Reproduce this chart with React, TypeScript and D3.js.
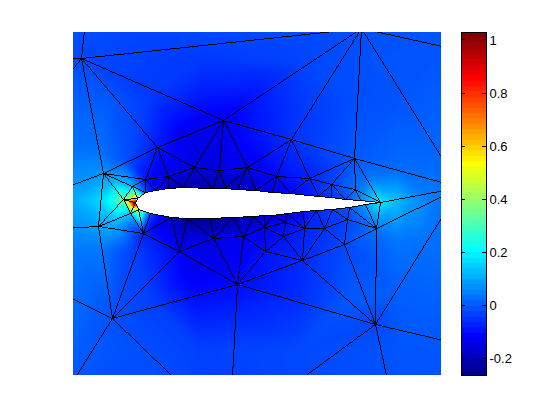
import React, { useMemo } from "react";
import * as d3 from "d3";

// Mesh nodes: chord coordinates (chord = 244 units, leading edge near 0,0) and field value
const nodeIds = ["A","B","C","D","E","F","G","H","I","J","K","L","M","N","O","P","Q","R","S","T","U","V","Vb","W","X","Y","Z","a","b","c","d","e","f","g","h","i","j","w","z",
  "p1","p2","p3","p4","p5","p6","p7","p8","p9","p10","p11","p12","p13","p14","p15",
  "l1","l2","l3","l4","l5","l6","l7","l8","l9","l10","l11","l12","l13","l14","l15",
  "LM","LC","BL","BN","BR","RB","RR","RT","TA","TR"];
const nodeX = [-54,225,87,155,218,244,240,208,166,129,147,128,149,168,188,211,140,173,195,219,21,58,83,111,-33,9,32,-4,-13,-1,-6,-38,7,43,77,107,101,-24,239,
  1,9,19,32,47,76,89,101,119,136,154,182,195,209,224,
  2,14,35,51,74,97,117,128,136,151,167,181,196,213,229,
  -196,-96,-81,93,264,384,324,334,-50,344];
const nodeY = [145,175,83,64,45,1,-25,-41,-57,-48,-33,-24,-19,-25,-25,-16,26,25,18,14,56,35,32.5,35,30,24,26,17,4,0,-10,-23,-30,-48,-36,-33,-81,-115,-121,
  5,10.5,13,14.5,15.5,15,14.5,14,12.5,11,9.5,7,5.5,4,2.5,
  -6,-10.5,-14,-15,-15,-14,-13,-12.5,-12,-10.5,-9,-7,-6,-4,-1.5,
  -31,146,-207,-228,-237,-155,16,150,193,223];
const nodeV = [-0.01,0,-0.115,-0.04,0.01,0.21,0.05,-0.01,-0.05,-0.08,-0.08,-0.11,-0.09,-0.06,-0.04,-0.02,-0.09,-0.06,-0.02,0.04,-0.07,-0.14,-0.14,-0.12,0.085,-0.08,-0.15,0.12,0.35,1.03,0.15,0.1,-0.06,-0.1,-0.14,-0.12,-0.09,0,-0.012,
  0.55,0,-0.1,-0.17,-0.2,-0.21,-0.2,-0.19,-0.17,-0.13,-0.1,-0.05,-0.03,-0.01,0.08,
  0.45,-0.02,-0.17,-0.23,-0.25,-0.22,-0.19,-0.17,-0.15,-0.12,-0.1,-0.05,-0.02,0,0.1,
  0.03,0,0,-0.02,0,0.01,0.03,0.01,0,0.01];

// Extra readings of the field, taken between the mesh nodes
const sampleX = [-36,-51,-63,-26,-36,-63,-36,-63,-11,-6,-21,-21,-63,-26,54,64,14,114,164,164,64,264,294,214,294,274,259,264,264,294,294,234,214,164,104,54,14,64,164,264,264,-6,-56,134,267];
const sampleY = [3,3,3,3,53,53,-47,-47,43,-47,23,-19,103,103,63,111,103,73,103,143,143,103,143,103,3,3,2,33,-37,43,-37,28,-97,-97,-107,-67,-97,-147,-147,-147,-87,-147,-147,128,128];
const sampleV = [0.18,0.14,0.115,0.24,0.04,0.04,0.05,0.05,0,-0.015,0.12,0.13,0.02,0.01,-0.13,-0.065,-0.03,-0.085,-0.03,-0.015,-0.03,0.005,0.005,-0.005,0.06,0.1,0.15,0.035,0.05,0.03,0.04,0.04,0.01,-0.045,-0.06,-0.12,-0.02,-0.02,-0.01,0.005,0.02,0,0.015,-0.05,0.006];

const triangles = [
  "c l1 d","d l1 f","f l1 l2","f l2 l3","f l3 g","g l3 l4","g l4 h","h l4 l5","h l5 l6","h l6 i",
  "i l6 l7","i l7 L","L l7 l8","L l8 l9","L l9 M","M l9 l10","M l10 N","N l10 l11","N l11 l12","N l12 O","O l12 l13","O l13 P","P l13 l14","P l14 G","G l14 l15","G l15 F",
  "i L J","L K J","L M K","M N K","K N I","K I J","N O I","O H I","O P H","P G H",
  "g h j","h i j","i J j","J I j","f g w","e f w","g j w","I j z","I H z","H G z",
  "a b p1","b c p1","a p1 p2","Y a p2","Y p2 p3","Y p3 Z","Z p3 p4","Z p4 p5","Z p5 V","V p5 p6","V p6 Vb","Vb p6 p7","Vb p7 W","W p7 p8","W p8 p9","W p9 Q","Q p9 p10","Q p10 p11","Q p11 R","R p11 p12","R p12 S","S p12 p13","S p13 p14","S p14 T","T p14 p15","T p15 F",
  "U Y Z","U Z V","U V C","C V Vb","C Vb W","C W D","D W Q","D Q R","D R E","E R S","E S T","E T F",
  "b c d","b d e","d f e","X a b","X b e","X Y a","X U Y","A X U","A U C","A C B","C D B","D E B",
  "e X LM","e LM w","w LM BL","w BL BN","w j BN","j z BN","z BN BR","z BR RB","z RB RR","G z RR","F G RR","E F RR","E B RR","B RT RR","B TR RT","B TA TR","A TA B","A LC TA","A LC LM","A X LM",
];

const colorMin = -0.263;
const colorMax = 1.03;
const colorTicks = [1, 0.8, 0.6, 0.4, 0.2, 0, -0.2];
const colorLevels = d3.range(64);

const plot = { left: 73, right: 441, top: 32, bottom: 375 };
const bar = { left: 461, right: 486 };

const xS = d3.scaleLinear().domain([-63, 305]).range([plot.left, plot.right]);
const yS = d3.scaleLinear().domain([-172, 171]).range([plot.bottom, plot.top]);
const cS = d3.scaleLinear().domain([colorMin, colorMax]).range([plot.bottom, plot.top]);

const stops = [0, 0.125, 0.375, 0.625, 0.875, 1];
const jr = d3.scaleLinear().domain(stops).range([0, 0, 0, 1, 1, 0.5]).clamp(true);
const jg = d3.scaleLinear().domain(stops).range([0, 0, 1, 1, 0, 0]).clamp(true);
const jb = d3.scaleLinear().domain(stops).range([0.5, 1, 1, 0, 0, 0]).clamp(true);
const jet = (t: number) => [Math.round(jr(t) * 255), Math.round(jg(t) * 255), Math.round(jb(t) * 255)];
const levelPalette = colorLevels.map((i) => jet((i + 1) / 64));
const toT = d3.scaleLinear().domain([colorMin, colorMax]).range([0, 1]).clamp(true);

const index = new Map(nodeIds.map((id, i) => [id, i]));
const triIdx = triangles.map((t) => t.split(" ").map((id) => index.get(id) as number));

const upperIds = ["c","p1","p2","p3","p4","p5","p6","p7","p8","p9","p10","p11","p12","p13","p14","p15","F"];
const lowerIds = ["l15","l14","l13","l12","l11","l10","l9","l8","l7","l6","l5","l4","l3","l2","l1"];

function rasterize(): string {
  const W = plot.right - plot.left;
  const H = plot.bottom - plot.top;
  const fx = [...nodeX, ...sampleX].map((v) => xS(v));
  const fy = [...nodeY, ...sampleY].map((v) => yS(v));
  const fv = [...nodeV, ...sampleV];
  const hull = [...upperIds, ...lowerIds].map((id) => {
    const i = index.get(id) as number;
    return [xS(nodeX[i]), yS(nodeY[i])] as [number, number];
  });
  const del = d3.Delaunay.from(fx.map((x, i) => [x, fy[i]] as [number, number]));
  const tri = del.triangles;
  const field = new Float32Array(W * H).fill(NaN);
  for (let t = 0; t < tri.length; t += 3) {
    const a = tri[t], b = tri[t + 1], c = tri[t + 2];
    const ax = fx[a], ay = fy[a], bx = fx[b], by = fy[b], cx = fx[c], cy = fy[c];
    const den = (by - cy) * (ax - cx) + (cx - bx) * (ay - cy);
    if (Math.abs(den) < 1e-6) continue;
    const x0 = Math.max(plot.left, Math.floor(Math.min(ax, bx, cx)));
    const x1 = Math.min(plot.right - 1, Math.ceil(Math.max(ax, bx, cx)));
    const y0 = Math.max(plot.top, Math.floor(Math.min(ay, by, cy)));
    const y1 = Math.min(plot.bottom - 1, Math.ceil(Math.max(ay, by, cy)));
    for (let py = y0; py <= y1; py++) {
      for (let px = x0; px <= x1; px++) {
        const qx = px + 0.5, qy = py + 0.5;
        const u = ((by - cy) * (qx - cx) + (cx - bx) * (qy - cy)) / den;
        const v = ((cy - ay) * (qx - cx) + (ax - cx) * (qy - cy)) / den;
        const w = 1 - u - v;
        if (u < -0.001 || v < -0.001 || w < -0.001) continue;
        if (d3.polygonContains(hull, [qx, qy])) continue;
        field[(py - plot.top) * W + (px - plot.left)] = u * fv[a] + v * fv[b] + w * fv[c];
      }
    }
  }
  // Soften the facets of the interpolation, leaving the sharp peak at the nose alone
  const blur = (src: Float32Array, r: number) => {
    const out = new Float32Array(W * H).fill(NaN);
    for (let y = 0; y < H; y++) {
      for (let x = 0; x < W; x++) {
        if (Number.isNaN(src[y * W + x])) continue;
        let s = 0, n = 0;
        for (let dy = -r; dy <= r; dy++) {
          const yy = y + dy;
          if (yy < 0 || yy >= H) continue;
          for (let dx = -r; dx <= r; dx++) {
            const xx = x + dx;
            if (xx < 0 || xx >= W) continue;
            const val = src[yy * W + xx];
            if (!Number.isNaN(val)) {
              s += val;
              n++;
            }
          }
        }
        out[y * W + x] = s / n;
      }
    }
    return out;
  };
  const soft = blur(blur(field, 3), 3);
  const cIdx = index.get("c") as number;
  const nx = xS(nodeX[cIdx]) - plot.left;
  const ny = yS(nodeY[cIdx]) - plot.top;
  const mix = d3.scaleLinear().domain([10, 30]).range([0, 1]).clamp(true);

  const canvas = document.createElement("canvas");
  canvas.width = W;
  canvas.height = H;
  const ctx = canvas.getContext("2d")!;
  const img = ctx.createImageData(W, H);
  for (let y = 0; y < H; y++) {
    for (let x = 0; x < W; x++) {
      const f = field[y * W + x];
      if (Number.isNaN(f)) continue;
      const m = mix(Math.hypot(x - nx, y - ny));
      const rgb = jet(toT(f * (1 - m) + soft[y * W + x] * m));
      const k = (y * W + x) * 4;
      img.data[k] = rgb[0];
      img.data[k + 1] = rgb[1];
      img.data[k + 2] = rgb[2];
      img.data[k + 3] = 255;
    }
  }
  ctx.putImageData(img, 0, 0);
  return canvas.toDataURL("image/png");
}

// One-pixel staircase between two mesh nodes, so the wires stay hard-edged and unbroken
function wirePath(p: number, q: number): string {
  const path = d3.path();
  const x0 = Math.floor(xS(nodeX[p])), y0 = Math.floor(yS(nodeY[p]));
  const x1 = Math.floor(xS(nodeX[q])), y1 = Math.floor(yS(nodeY[q]));
  const steps = Math.max(Math.abs(x1 - x0), Math.abs(y1 - y0), 1);
  const px = d3.scaleLinear().domain([0, steps]).range([x0, x1]);
  const py = d3.scaleLinear().domain([0, steps]).range([y0, y1]);
  for (let s = 0; s <= steps; s++) {
    const x = Math.round(px(s)), y = Math.round(py(s));
    if (x < plot.left - 1 || x > plot.right || y < plot.top - 1 || y > plot.bottom) continue;
    path.rect(x, y, 1, 1);
  }
  return path.toString();
}

export default function App() {
  const href = useMemo(rasterize, []);
  const edges = useMemo(() => {
    const seen = new Set<string>();
    const out: [number, number][] = [];
    for (const [a, b, c] of triIdx) {
      for (const [p, q] of [[a, b], [b, c], [c, a]]) {
        const key = p < q ? `${p}-${q}` : `${q}-${p}`;
        if (!seen.has(key)) {
          seen.add(key);
          out.push([p, q]);
        }
      }
    }
    return out;
  }, []);
  const levelH = (plot.bottom - plot.top) / 64;
  const font = "'Liberation Sans', Arial, sans-serif";

  return (
    <svg
      width={560}
      height={420}
      style={{ position: "absolute", left: 0, top: 0, display: "block", background: "#fff" }}
    >
      <defs>
        <clipPath id="plotClip">
          <rect x={plot.left} y={plot.top} width={plot.right - plot.left} height={plot.bottom - plot.top} />
        </clipPath>
      </defs>
      <image
        href={href}
        x={plot.left}
        y={plot.top}
        width={plot.right - plot.left}
        height={plot.bottom - plot.top}
        style={{ imageRendering: "pixelated" }}
      />
      <g clipPath="url(#plotClip)" fill="#000" stroke="none" shapeRendering="crispEdges">
        {edges.map(([p, q]) => (
          <path key={`${p}-${q}`} d={wirePath(p, q)} />
        ))}
      </g>
      <g shapeRendering="crispEdges">
        {colorLevels.map((i) => {
          const rgb = levelPalette[i];
          return (
            <rect
              key={i}
              x={bar.left}
              y={plot.bottom - (i + 1) * levelH}
              width={bar.right - bar.left}
              height={levelH + 0.5}
              fill={`rgb(${rgb[0]},${rgb[1]},${rgb[2]})`}
            />
          );
        })}
        <rect
          x={bar.left}
          y={plot.top}
          width={bar.right - bar.left}
          height={plot.bottom - plot.top}
          fill="none"
          stroke="#000"
        />
        {colorTicks.map((t) => (
          <g key={t}>
            <line x1={bar.left} x2={bar.left + 4} y1={cS(t)} y2={cS(t)} stroke="#000" />
            <line x1={bar.right - 4} x2={bar.right} y1={cS(t)} y2={cS(t)} stroke="#000" />
          </g>
        ))}
      </g>
      <g fontFamily={font} fontSize={13} fill="#000">
        {colorTicks.map((t) => (
          <text key={t} x={489.5} y={cS(t) + 5}>
            {String(t)}
          </text>
        ))}
      </g>
    </svg>
  );
}
